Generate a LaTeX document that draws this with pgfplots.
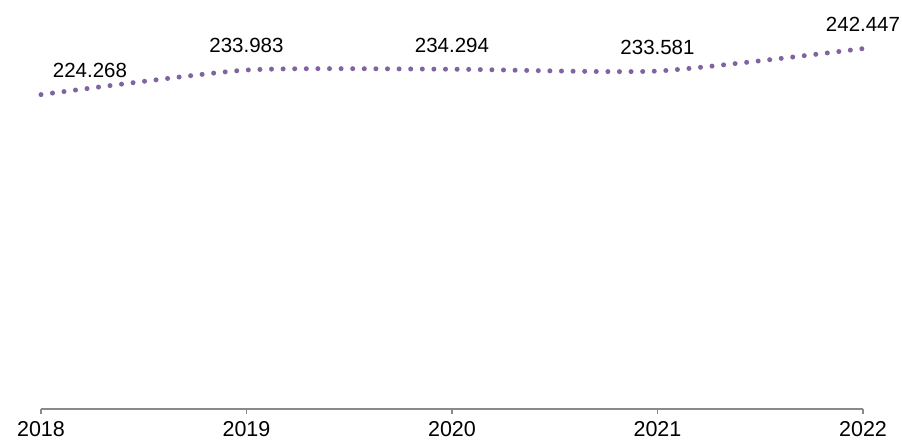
\documentclass[border=0pt]{standalone}
\usepackage{pgfplots}
\pgfplotsset{compat=1.18}
\usepackage{fontspec}
\setmainfont{Liberation Sans}
\definecolor{linecol}{HTML}{8064A2}
\definecolor{axcol}{HTML}{898989}
\begin{document}
\begin{tikzpicture}
\useasboundingbox (-41bp,-34bp) rectangle (861bp,409bp);
\begin{axis}[
  at={(0,0)}, anchor=south west,
  scale only axis,
  width=822bp, height=379.5bp,
  xmin=0, xmax=4, ymin=100, ymax=250,
  axis lines=none,
  clip=false,
  xtick=\empty, ytick=\empty,
]
\addplot[color=linecol, line width=5bp, line cap=round, dash pattern=on 0bp off 11.6bp, smooth, tension=0.35,
  nodes near coords,
  nodes near coords style={font=\fontsize{20.5bp}{24bp}\selectfont, text=black, anchor=south, yshift=11bp},
  coordinate style/.condition={x==0}{xshift=49bp},
  point meta=explicit symbolic]
 coordinates {(0,224.268)[224.268] (1,233.983)[233.983] (2,234.294)[234.294] (3,233.581)[233.581] (4,242.447)[242.447]};
\end{axis}
\begin{axis}[
  at={(0,0)}, anchor=south west,
  scale only axis,
  width=822bp, height=379.5bp,
  xmin=0, xmax=4, ymin=100, ymax=250,
  axis x line=bottom, axis y line=none,
  x axis line style={color=axcol, line width=1.2bp, -},
  xtick={0,1,2,3,4},
  xticklabels={2018,2019,2020,2021,2022},
  xtick style={color=axcol, line width=1.2bp},
  tick align=outside, major tick length=5bp,
  xticklabel style={font=\fontsize{21.5bp}{25bp}\selectfont, text=black, yshift=-4bp},
  ytick=\empty,
]
\addplot[draw=none] coordinates {(0,100)};
\end{axis}
\end{tikzpicture}
\end{document}
